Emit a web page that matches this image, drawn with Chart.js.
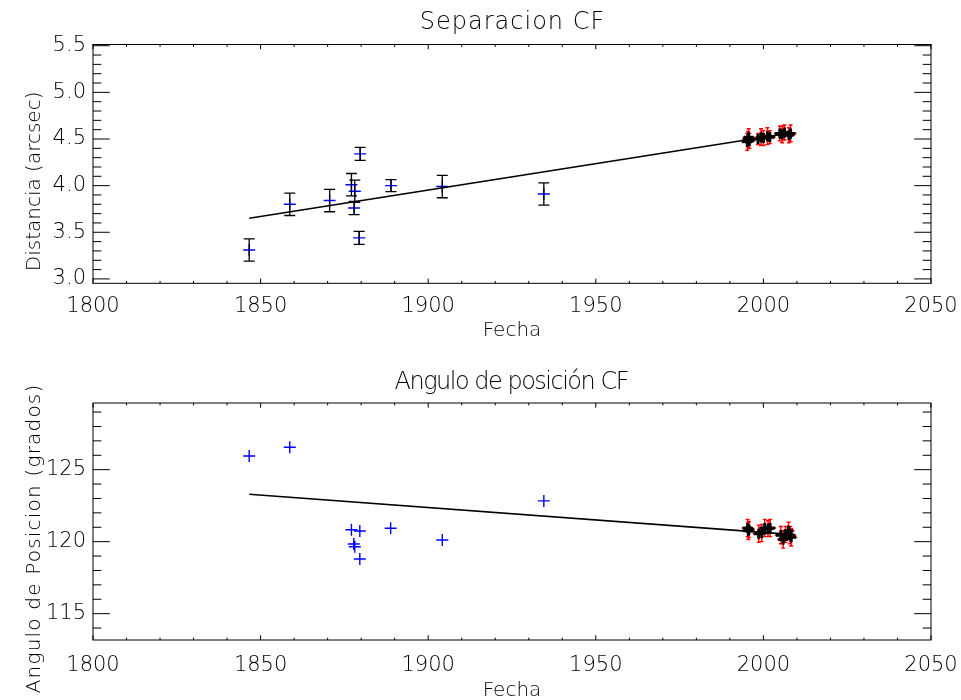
<!DOCTYPE html>
<html><head><meta charset="utf-8">
<script src="https://cdn.jsdelivr.net/npm/chart.js@4/dist/chart.umd.min.js"></script>
<style>
html,body{margin:0;padding:0;background:#fff;overflow:hidden}
#w{position:relative;width:961px;height:700px;background:#fff}
.c{position:absolute;left:0;width:961px;height:350px}
</style></head><body>
<div id="w">
<div class="c" style="top:0"><canvas id="c1" width="961" height="350"></canvas></div>
<div class="c" style="top:350px"><canvas id="c2" width="961" height="350"></canvas></div>
</div>
<script>
// ---------- DATA ----------
const yearTicks = [1800, 1850, 1900, 1950, 2000, 2050];
const sepTicks = [3.0, 3.5, 4.0, 4.5, 5.0, 5.5];
const posTicks = [115, 120, 125];

// historical measurements (blue)
const oldSepYears = [1846.6, 1858.7, 1870.6, 1877.1, 1878.1, 1877.9, 1879.7, 1879.4, 1888.9, 1904.2, 1934.5];
const oldSep      = [3.31, 3.80, 3.84, 4.01, 3.94, 3.76, 4.34, 3.44, 4.00, 3.99, 3.91];
const oldSepErr   = [0.12, 0.12, 0.12, 0.12, 0.12, 0.07, 0.07, 0.07, 0.065, 0.12, 0.12];

const oldPosYears = [1846.6, 1858.7, 1877.1, 1879.6, 1877.8, 1878.1, 1879.6, 1888.8, 1904.2, 1934.5];
const oldPos      = [125.95, 126.56, 120.83, 120.74, 119.84, 119.65, 118.80, 120.93, 120.12, 122.83];

// recent measurements (red / black)
const newSepYears = [1995.2, 1995.4, 1995.6, 1995.8, 1998.4, 1999.3, 2000.0, 2001.2, 2001.9, 2004.9, 2005.6, 2006.3, 2007.6, 2008.1];
const newSep      = [4.47, 4.50, 4.52, 4.48, 4.50, 4.52, 4.51, 4.53, 4.52, 4.56, 4.55, 4.57, 4.54, 4.56];
const newSepErr   = [0.09, 0.08, 0.09, 0.08, 0.06, 0.09, 0.08, 0.09, 0.07, 0.08, 0.09, 0.08, 0.08, 0.09];

const newPosYears = [1995.3, 1995.5, 1995.7, 1998.6, 1999.5, 2000.4, 2001.4, 2002.0, 2005.2, 2005.9, 2006.6, 2007.5, 2008.0, 2008.3];
const newPos      = [120.95, 120.75, 120.85, 120.55, 120.60, 120.95, 120.90, 120.95, 120.45, 120.15, 120.50, 120.75, 120.45, 120.30];
const newPosErr   = [0.6, 0.6, 0.55, 0.6, 0.6, 0.6, 0.55, 0.6, 0.6, 0.6, 0.55, 0.6, 0.6, 0.6];

// linear fits (end points)
const fitYears = [1846.6, 2009.0];
const sepFit   = [3.65, 4.57];
const posFit   = [123.29, 120.49];

// ---------- helpers ----------
const pts = (xs, ys) => xs.map((x, i) => ({x, y: ys[i]}));
const FAMILY = 'DejaVu Sans';
const TICK_FONT = {family: FAMILY, size: 21, weight: 200};
const AX_SIZE = 20;
const TITLE_SIZE = 24;

const framePlugin = {
  id: 'frame',
  beforeDatasetsDraw(chart) {
    const {ctx, chartArea: a, scales: {x, y}} = chart;
    const o = chart.options.plugins.frame;
    const w = a.right - a.left, h = a.bottom - a.top;
    const xMaj = 0.02 * h, yMaj = 0.02 * w;
    ctx.save();
    ctx.strokeStyle = '#000';
    ctx.lineWidth = 1;
    ctx.strokeRect(a.left, a.top, w, h);
    ctx.beginPath();
    const xs = Math.ceil(x.min / o.xMinor - 1e-6);
    for (let k = xs; k * o.xMinor <= x.max + 1e-6; k++) {
      const v = k * o.xMinor;
      const px = x.getPixelForValue(v);
      const major = Math.abs(v / o.xMajor - Math.round(v / o.xMajor)) < 1e-6;
      const L = major ? xMaj : xMaj / 2;
      ctx.moveTo(px, a.bottom); ctx.lineTo(px, a.bottom - L);
      ctx.moveTo(px, a.top); ctx.lineTo(px, a.top + L);
    }
    const ys = Math.ceil(y.min / o.yMinor - 1e-6);
    for (let k = ys; k * o.yMinor <= y.max + 1e-6; k++) {
      const v = k * o.yMinor;
      const py = y.getPixelForValue(v);
      const major = Math.abs(v / o.yMajor - Math.round(v / o.yMajor)) < 1e-6;
      const L = major ? yMaj : yMaj / 2;
      ctx.moveTo(a.left, py); ctx.lineTo(a.left + L, py);
      ctx.moveTo(a.right, py); ctx.lineTo(a.right - L, py);
    }
    ctx.stroke();
    ctx.restore();
  },
  afterDatasetDraw(chart, args) {
    const ds = chart.data.datasets[args.index];
    if (!ds.errors) return;
    const {ctx, scales: {x, y}} = chart;
    ctx.save();
    ctx.strokeStyle = ds.errColor;
    ctx.lineWidth = ds.errWidth || 1.3;
    ctx.beginPath();
    ds.data.forEach((p, i) => {
      const e = ds.errors[i];
      const px = x.getPixelForValue(p.x);
      const y1 = y.getPixelForValue(p.y - e), y2 = y.getPixelForValue(p.y + e);
      const c = ds.capHalf;
      ctx.moveTo(px, y1); ctx.lineTo(px, y2);
      if (c > 0) {
        ctx.moveTo(px - c, y1); ctx.lineTo(px + c, y1);
        ctx.moveTo(px - c, y2); ctx.lineTo(px + c, y2);
      }
    });
    ctx.stroke();
    ctx.restore();
  },
  afterDraw(chart) {
    const {ctx, chartArea: a} = chart;
    const o = chart.options.plugins.frame;
    // main title
    ctx.save();
    ctx.fillStyle = '#000';
    ctx.font = `200 ${TITLE_SIZE}px '${FAMILY}'`;
    ctx.letterSpacing = o.titleSpacing + 'px';
    ctx.textAlign = 'center';
    ctx.textBaseline = 'middle';
    ctx.fillText(o.title, (a.left + a.right) / 2 + o.titleSpacing / 2, o.titleY);
    ctx.restore();
    // y axis title
    ctx.save();
    ctx.fillStyle = '#000';
    ctx.font = `200 ${AX_SIZE}px '${FAMILY}'`;
    ctx.letterSpacing = o.yTitleSpacing + 'px';
    ctx.textAlign = 'center';
    ctx.textBaseline = 'middle';
    ctx.translate(o.yTitleX, (a.top + a.bottom) / 2 + o.yTitleShift);
    ctx.rotate(-Math.PI / 2);
    ctx.fillText(o.yTitle, o.yTitleSpacing / 2, 0);
    ctx.restore();
  }
};

function makePanel(id, cfg) {
  const datasets = [
    {type: 'line', label: 'fit', data: pts(fitYears, cfg.fit), borderColor: '#000', borderWidth: 1.6,
     pointRadius: 0, fill: false, tension: 0},
    {type: 'scatter', label: 'old', data: pts(cfg.oldX, cfg.oldY), pointStyle: 'cross', pointRadius: 6,
     borderColor: '#0000ff', backgroundColor: '#0000ff', borderWidth: 1.4,
     errors: cfg.oldErr, errColor: '#000', capHalf: 5.5, errWidth: 1.3},
    {type: 'scatter', label: 'newBlack', data: pts(cfg.newX, cfg.newY), pointStyle: 'cross', pointRadius: 5,
     borderColor: '#000', backgroundColor: '#000', borderWidth: 3},
    {type: 'scatter', label: 'newRed', data: pts(cfg.newX, cfg.newY), pointStyle: 'cross', pointRadius: 6,
     borderColor: '#ff0000', backgroundColor: '#ff0000', borderWidth: 1.4,
     errors: cfg.newErr, errColor: '#ff0000', capHalf: 2, errWidth: 1.4}
  ];
  return new Chart(document.getElementById(id), {
    data: {datasets},
    options: {
      responsive: false,
      animation: false,
      events: [],
      layout: {padding: {left: 0, right: 30, top: cfg.padTop, bottom: 0}},
      plugins: {
        legend: {display: false},
        tooltip: {enabled: false},
        title: {display: false},
        frame: {xMinor: 10, xMajor: 50, yMinor: cfg.yMinor, yMajor: cfg.yMajor,
                title: cfg.title, titleY: cfg.titleY, titleSpacing: cfg.titleSpacing,
                yTitle: cfg.yTitle, yTitleX: 35, yTitleShift: 17.5, yTitleSpacing: cfg.yTitleSpacing}
      },
      scales: {
        x: {
          type: 'linear', position: 'bottom', min: 1800, max: 2050,
          grid: {display: false, drawTicks: false, tickLength: 0},
          border: {display: false},
          ticks: {font: TICK_FONT, color: '#000', padding: cfg.xTickPad, maxRotation: 0,
                  callback: v => String(v)},
          afterBuildTicks: s => { s.ticks = yearTicks.map(v => ({value: v})); },
          afterFit: s => { s.height = cfg.xHeight; s.paddingLeft = 0; s.paddingRight = 0; },
          title: {display: true, text: 'Fecha', color: '#000',
                  font: {family: FAMILY, size: AX_SIZE, weight: 200},
                  padding: {top: 0, bottom: cfg.xTitlePad}}
        },
        y: {
          type: 'linear', position: 'left', min: cfg.yMin, max: cfg.yMax,
          grid: {display: false, drawTicks: false, tickLength: 0},
          border: {display: false},
          ticks: {font: TICK_FONT, color: '#000', padding: 7, callback: cfg.fmt},
          afterBuildTicks: s => { s.ticks = cfg.yTicks.map(v => ({value: v})); },
          afterFit: s => { s.width = 93; s.paddingTop = 0; s.paddingBottom = 0; }
        }
      }
    },
    plugins: [framePlugin]
  });
}

makePanel('c1', {
  title: 'Separacion CF', titleY: 22.5, titleSpacing: 1, padTop: 44.5,
  yTitle: 'Distancia (arcsec)', yTitleSpacing: 0,
  yMin: 2.953, yMax: 5.513, yTicks: sepTicks, yMinor: 0.1, yMajor: 0.5,
  fmt: v => v.toFixed(1), xHeight: 66.7, xTickPad: 10.5, xTitlePad: 7.5,
  fit: sepFit, oldX: oldSepYears, oldY: oldSep, oldErr: oldSepErr,
  newX: newSepYears, newY: newSep, newErr: newSepErr
});

makePanel('c2', {
  title: 'Angulo de posición CF', titleY: 33, titleSpacing: -1.5, padTop: 53,
  yTitle: 'Angulo de Posicion (grados)', yTitleSpacing: 1.2,
  yMin: 113.17, yMax: 129.63, yTicks: posTicks, yMinor: 1, yMajor: 5,
  fmt: v => String(v), xHeight: 60, xTickPad: 12.8, xTitlePad: -2.5,
  fit: posFit, oldX: oldPosYears, oldY: oldPos, oldErr: null,
  newX: newPosYears, newY: newPos, newErr: newPosErr
});
</script>
</body></html>
